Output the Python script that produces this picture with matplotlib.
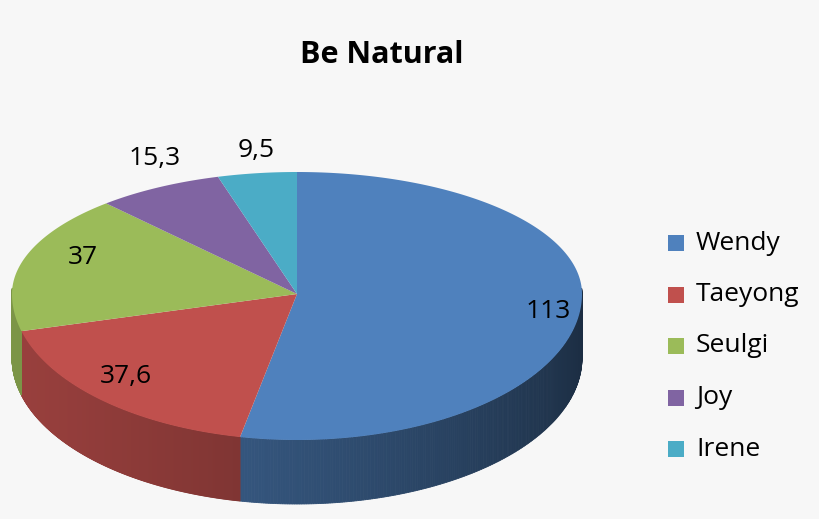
import numpy as np
import matplotlib.pyplot as plt
from matplotlib.patches import Polygon, Rectangle
import matplotlib.colors as mc

categories = ["Wendy", "Taeyong", "Seulgi", "Joy", "Irene"]
values = [113, 37.6, 37, 15.3, 9.5]
labels = ["113", "37,6", "37", "15,3", "9,5"]
colors = ["#4F81BD", "#C0504D", "#9BBB59", "#8064A2", "#4BACC6"]

fig = plt.figure(figsize=(8.2, 5.19), dpi=100, facecolor="#F7F7F7")
ax = fig.add_axes([0, 0, 1, 1])
ax.set_xlim(0, 820); ax.set_ylim(519, 0); ax.axis("off")

cx, cy, rx, ry_top, ry_bot, depth = 297, 294, 285, 122, 146, 64
def pt(a):
    a = np.asarray(a)
    s = np.sin(a)
    ry = np.where(s > 0, ry_top, ry_bot)
    return cx + rx*np.cos(a), cy - ry*s

def dark(c, f):
    r, g, b = mc.to_rgb(c)
    return (r*f, g*f, b*f)

total = sum(values)
start = np.pi/2
wedges = []
for v in values:
    end = start - 2*np.pi*v/total
    wedges.append((end, start))
    start = end

for (a0, a1), c in zip(wedges, colors):
    angs = np.linspace(a0, a1, 400)
    angs = angs[np.sin(angs) <= 0.05]
    if len(angs) < 2:
        continue
    for i in range(len(angs) - 1):
        xs, ys = pt(angs[i:i+2])
        f = 0.35 + 0.45*(1 - (xs.mean() - (cx - rx))/(2*rx))**0.7
        poly = [(xs[0], ys[0]), (xs[1], ys[1]), (xs[1], ys[1]+depth), (xs[0], ys[0]+depth)]
        ax.add_patch(Polygon(poly, closed=True, fc=dark(c, f), ec=dark(c, f), lw=0.6))

for (a0, a1), c in zip(wedges, colors):
    angs = np.linspace(a0, a1, 200)
    xs, ys = pt(angs)
    poly = [(cx, cy)] + list(zip(xs, ys))
    ax.add_patch(Polygon(poly, closed=True, fc=c, ec="none"))

font = "Open Sans"
pos = [(548, 312), (126, 377), (83, 257), (155, 158), (256, 150)]
for (x, y), t in zip(pos, labels):
    ax.text(x, y, t, fontsize=19, family=font, ha="center", va="center", color="black")

ax.text(382, 55, "Be Natural", fontsize=22, family=font, weight="bold", ha="center", va="center")

for i, (n, c) in enumerate(zip(categories, colors)):
    y = 243 + i*51.5
    ax.add_patch(Rectangle((668, y-8), 16, 16, fc=c, ec="none"))
    ax.text(696, y, n, fontsize=19, family=font, va="center", ha="left")

fig.savefig("out.png", dpi=100, facecolor=fig.get_facecolor())
